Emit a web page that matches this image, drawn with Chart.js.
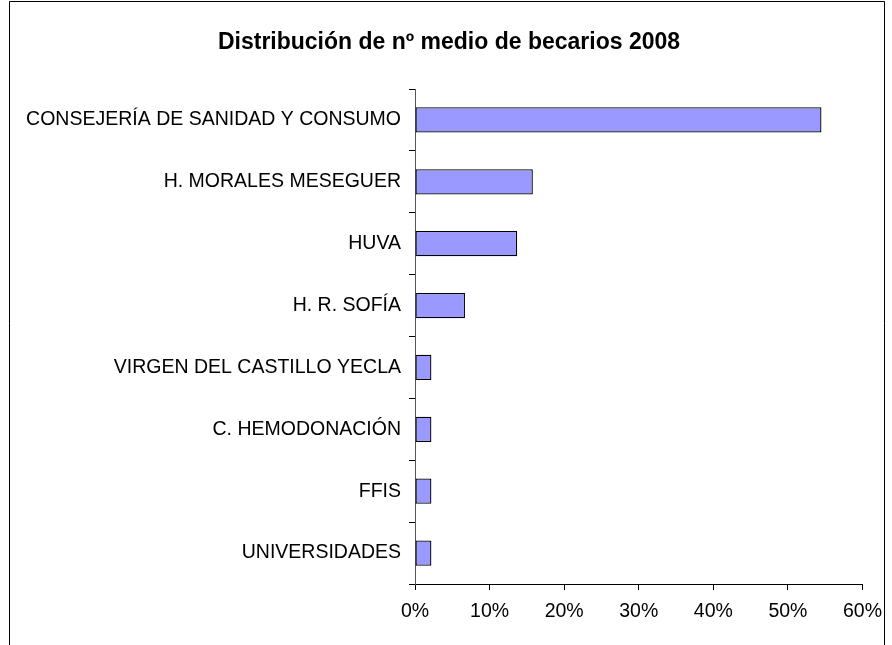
<!DOCTYPE html>
<html>
<head>
<meta charset="utf-8">
<script src="https://cdn.jsdelivr.net/npm/chart.js@4/dist/chart.umd.min.js"></script>
<style>
  html, body { margin: 0; padding: 0; background: #fff; }
  #wrap { width: 892px; height: 645px; position: relative; }
</style>
</head>
<body>
<div id="wrap"><canvas id="chart"></canvas></div>
<script>
// datos (porcentaje)
const centros = [
  "CONSEJERÍA DE SANIDAD Y CONSUMO",
  "H. MORALES MESEGUER",
  "HUVA",
  "H. R. SOFÍA",
  "VIRGEN DEL CASTILLO YECLA",
  "C. HEMODONACIÓN",
  "FFIS",
  "UNIVERSIDADES"
];
const porcentajes = [54.5, 15.8, 13.7, 6.7, 2.2, 2.2, 2.2, 2.2];
const titulo = "Distribución de nº medio de becarios 2008";

// marco exterior y título
const marco = {
  id: "marco",
  beforeDraw(chart) {
    const ctx = chart.ctx;
    ctx.save();
    ctx.fillStyle = "#fff";
    ctx.fillRect(0, 0, chart.width, chart.height);
    ctx.strokeStyle = "#000";
    ctx.lineWidth = 1;
    ctx.beginPath();
    ctx.moveTo(9.5, 700);
    ctx.lineTo(9.5, 1.5);
    ctx.lineTo(884.5, 1.5);
    ctx.lineTo(884.5, 700);
    ctx.stroke();
    ctx.fillStyle = "#000";
    ctx.font = "bold 23px 'Liberation Sans', Arial";
    ctx.textAlign = "center";
    ctx.textBaseline = "middle";
    ctx.fillText(titulo, 449, 43);
    ctx.restore();
  }
};

new Chart(document.getElementById("chart"), {
  type: "bar",
  data: {
    labels: centros,
    datasets: [{
      data: porcentajes,
      backgroundColor: "#9999FF",
      borderColor: "#000",
      borderWidth: 1.3,
      borderSkipped: false,
      barPercentage: 0.41,
      categoryPercentage: 1
    }]
  },
  options: {
    indexAxis: "y",
    responsive: true,
    maintainAspectRatio: false,
    animation: false,
    layout: { padding: { left: 0, right: 25, top: 89, bottom: 0 } },
    plugins: {
      legend: { display: false },
      tooltip: { enabled: false },
      title: { display: false }
    },
    scales: {
      x: {
        min: 0,
        max: 60,
        ticks: {
          stepSize: 10,
          color: "#000",
          padding: 10,
          font: { family: "Liberation Sans, Arial", size: 19.5 },
          callback: v => v + "%"
        },
        grid: { drawOnChartArea: false, drawTicks: true, tickLength: 6, color: "#000" },
        border: { color: "#000", width: 1 },
        afterFit(scale) { scale.height = 61; }
      },
      y: {
        ticks: {
          color: "#000",
          padding: 8,
          font: { family: "Liberation Sans, Arial", size: 19.5 }
        },
        grid: { drawOnChartArea: false, drawTicks: true, tickLength: 6, color: "#000", offset: true },
        border: { color: "#555", width: 1 },
        afterFit(scale) { scale.width = 415; }
      }
    }
  },
  plugins: [marco]
});
</script>
</body>
</html>
